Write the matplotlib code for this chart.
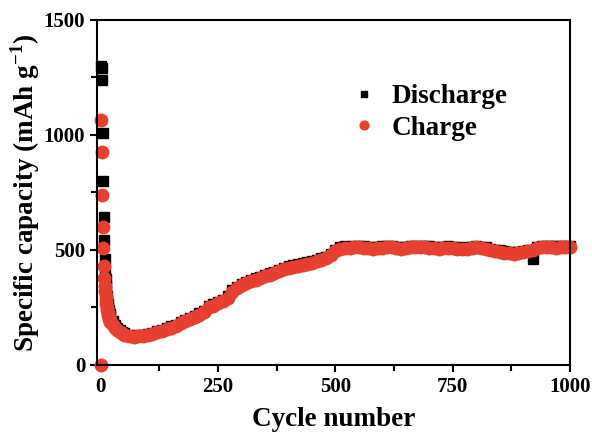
import matplotlib
matplotlib.use('Agg')
import matplotlib.pyplot as plt
from matplotlib.ticker import MultipleLocator

plt.rcParams['font.family'] = 'Liberation Serif'
plt.rcParams['font.weight'] = 'bold'
plt.rcParams['axes.labelweight'] = 'bold'
plt.rcParams['mathtext.fontset'] = 'custom'
plt.rcParams['mathtext.rm'] = 'Liberation Serif:bold'

cycles = list(range(0, 21)) + [25, 30, 35, 40, 45, 50] + list(range(60, 1001, 10))

charge = [0, 1065, 925, 740, 600, 510, 430, 380, 345, 320, 300, 282, 266, 252, 240, 229, 219, 210, 202, 195, 189,
          172, 160, 150, 143, 137, 132,
          126, 123, 124, 127, 131, 136, 142, 148, 155, 162,
          170, 182, 190, 198, 207, 218, 230, 250, 258, 268,
          278, 292, 318, 335, 348, 356, 364, 371, 378, 385,
          393, 400, 408, 416, 423, 428, 432, 436, 440, 445,
          450, 457, 465, 478, 494, 505, 510, 508, 512, 513,
          510, 507, 505, 507, 510, 512, 511, 508, 506, 508,
          511, 513, 511, 513, 510, 508, 505, 507, 510, 508,
          505, 503, 506, 509, 511, 509, 505, 500, 495, 492,
          489, 486, 484, 486, 490, 496, 502, 508, 511, 512,
          511, 510, 512, 511, 513]

# discharge starts at cycle 1
discharge = [1300, 1290, 1240, 1010, 800, 645, 545, 460, 410, 372, 342, 318, 298, 280, 265, 252, 240, 230, 221, 213,
             190, 172, 160, 151, 144, 138,
             131, 128, 129, 132, 136, 141, 147, 154, 161, 168,
             176, 188, 196, 204, 213, 224, 236, 256, 264, 274,
             284, 298, 324, 341, 354, 362, 370, 377, 384, 391,
             399, 406, 414, 422, 429, 434, 438, 442, 446, 451,
             456, 463, 471, 484, 500, 511, 516, 514, 518, 519,
             516, 513, 511, 513, 516, 518, 517, 514, 512, 514,
             517, 519, 517, 519, 516, 514, 511, 513, 516, 514,
             511, 509, 512, 515, 517, 515, 511, 506, 501, 498,
             495, 492, 490, 492, 496, 502, 460, 514, 517, 518,
             517, 516, 518, 517, 519]

fig = plt.figure(figsize=(5.92, 4.34), dpi=100)
ax = fig.add_axes([0.164, 0.159, 0.799, 0.795])

ax.plot(cycles[1:], discharge, 's', color='black', markersize=7, label='Discharge', clip_on=False)
ax.plot(cycles, charge, 'o', color='#e8402f', markersize=9, label='Charge', clip_on=False)

ax.set_xlim(-8, 1000)
ax.set_ylim(0, 1500)
ax.xaxis.set_major_locator(MultipleLocator(250))
ax.xaxis.set_minor_locator(MultipleLocator(125))
ax.yaxis.set_major_locator(MultipleLocator(500))
ax.yaxis.set_minor_locator(MultipleLocator(250))
ax.tick_params(which='major', direction='out', length=5, width=1.5, labelsize=15)
ax.tick_params(which='minor', direction='out', length=4, width=1.5)
for s in ax.spines.values():
    s.set_linewidth(1.5)

ax.set_xlabel('Cycle number', fontsize=19.5, labelpad=7)
ax.set_ylabel(r'Specific capacity (mAh g$^{-1}$)', fontsize=19.5, labelpad=1)

ax.legend(loc='upper left', bbox_to_anchor=(0.49, 0.885), frameon=False,
          prop={'size': 19.5, 'weight': 'bold'}, handlelength=0.8, handletextpad=0.6,
          labelspacing=0.25, markerscale=0.7)

fig.savefig('out.png', dpi=100)
